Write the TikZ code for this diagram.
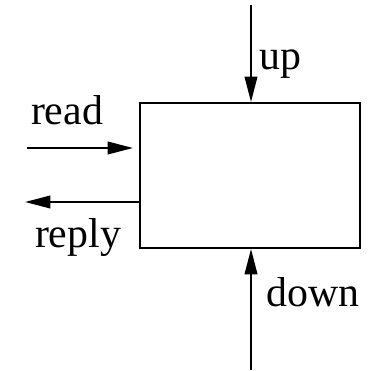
\documentclass[tikz,border=0pt]{standalone}
\usepackage{fontspec}
\setmainfont{Liberation Serif}
\usetikzlibrary{arrows.meta}

\tikzset{
  port/.style={line width=1.1pt,-{Triangle[length=14.5pt,width=7.2pt]}},
  lbl/.style={anchor=base,inner sep=0pt,font=\fontsize{23.8}{28}\selectfont}
}

\begin{document}
\begin{tikzpicture}[x=0.02cm,y=0.02cm]

\useasboundingbox (0,0) rectangle (375,371);

\node[draw,line width=1.1pt,minimum width=220*0.02cm,minimum height=145*0.02cm,inner sep=0pt] (proc) at (250,195.5) {};

% ports
\coordinate (upin) at (251,366);
\coordinate (downin) at (251,1);
\coordinate (readin) at (27,223);
\coordinate (readend) at (133,223);
\coordinate (replyout) at (25,169);

\draw[port] (upin) -- (upin |- proc.north);
\draw[port] (downin) -- (downin |- proc.south);
\draw[port] (readin) -- (readend);
\draw[port] (replyout -| proc.west) -- (replyout);

\node[lbl] (uplbl) at (280,301) {up};
\node[lbl] (downlbl) at (313,64) {down};
\node[lbl] (readlbl) at (67,246) {read};
\node[lbl] (replylbl) at (78,123) {reply};

\end{tikzpicture}
\end{document}
